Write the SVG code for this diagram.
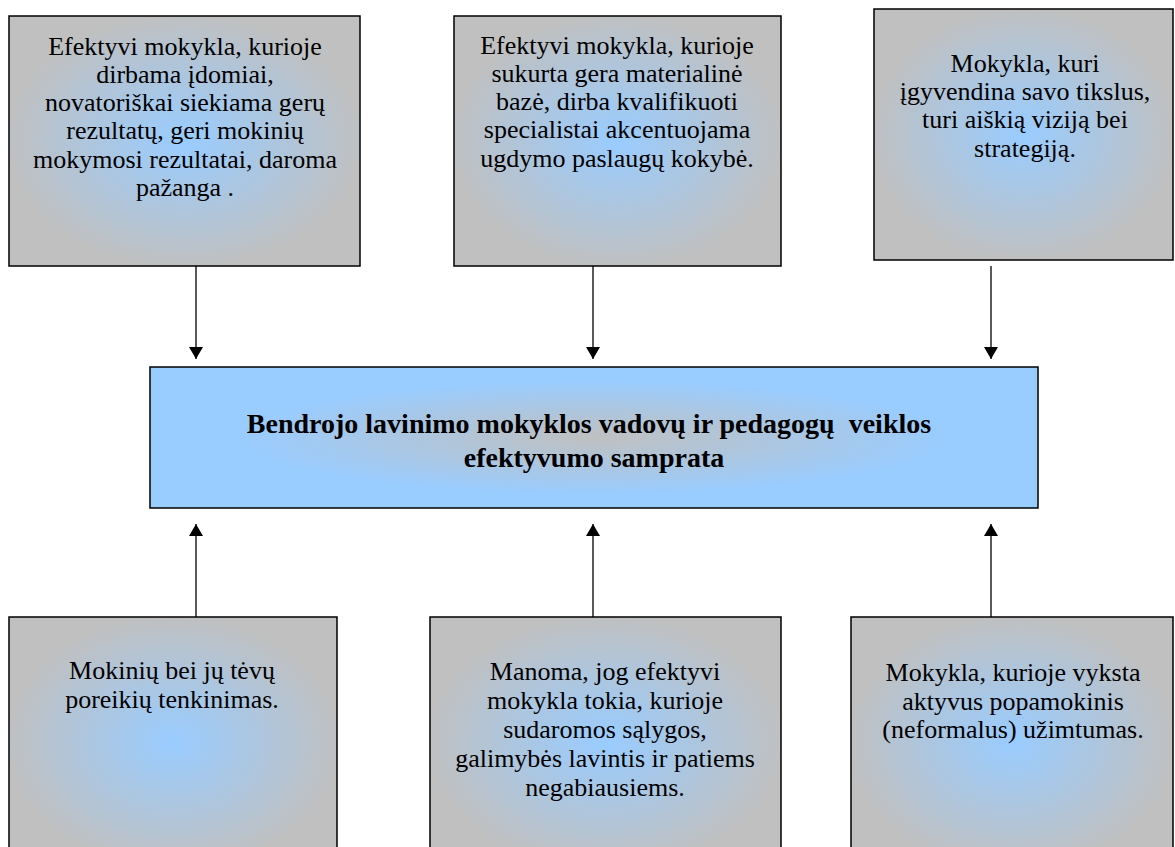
<svg xmlns="http://www.w3.org/2000/svg" width="1175" height="847" viewBox="0 0 1175 847">
<style>
.box{stroke:#000;stroke-width:1.5}
.outer{fill:url(#gOuter)}
.center{fill:url(#gCenter)}
.t{font-family:"Liberation Serif","Times New Roman",serif;font-size:26px;fill:#000;text-anchor:middle}
.tb{font-family:"Liberation Serif","Times New Roman",serif;font-size:28px;font-weight:bold;fill:#000;text-anchor:middle;white-space:pre}
.conn line{stroke:#000;stroke-width:1.3}
</style>
<defs>
<radialGradient id="gOuter" cx="0.5" cy="0.5" r="0.6">
<stop offset="0" stop-color="#99ccff"/>
<stop offset="0.85" stop-color="#c0c0c0"/>
</radialGradient>
<radialGradient id="gCenter" cx="0.5" cy="0.5" r="0.5">
<stop offset="0" stop-color="#c0c0c0"/>
<stop offset="0.8" stop-color="#99ccff"/>
</radialGradient>
<marker id="arr" viewBox="0 0 12 14" refX="12" refY="7" markerWidth="12" markerHeight="14" markerUnits="userSpaceOnUse" orient="auto">
<path d="M0,0 L12,7 L0,14 Z" fill="#000"/>
</marker>
</defs>
<g class="conn">
<line x1="196" y1="266" x2="196" y2="359" marker-end="url(#arr)"/>
<line x1="593" y1="266" x2="593" y2="359" marker-end="url(#arr)"/>
<line x1="991" y1="266" x2="991" y2="359" marker-end="url(#arr)"/>
<line x1="196" y1="617" x2="196" y2="524" marker-end="url(#arr)"/>
<line x1="593" y1="617" x2="593" y2="524" marker-end="url(#arr)"/>
<line x1="991" y1="617" x2="991" y2="524" marker-end="url(#arr)"/>
</g>
<g id="node-top1">
<rect class="box outer" x="9" y="16" width="351" height="250"/>
<text class="t" x="185" y="55">Efektyvi mokykla, kurioje</text>
<text class="t" x="185" y="83">dirbama įdomiai,</text>
<text class="t" x="185" y="111">novatoriškai siekiama gerų</text>
<text class="t" x="185" y="139">rezultatų, geri mokinių</text>
<text class="t" x="185" y="168">mokymosi rezultatai, daroma</text>
<text class="t" x="185" y="196">pažanga .</text>
</g>
<g id="node-top2">
<rect class="box outer" x="454" y="16" width="327" height="250"/>
<text class="t" x="617" y="54">Efektyvi mokykla, kurioje</text>
<text class="t" x="617" y="82">sukurta gera materialinė</text>
<text class="t" x="617" y="110">bazė, dirba kvalifikuoti</text>
<text class="t" x="617" y="138">specialistai akcentuojama</text>
<text class="t" x="617" y="167">ugdymo paslaugų kokybė.</text>
</g>
<g id="node-top3">
<rect class="box outer" x="874" y="9" width="299" height="251"/>
<text class="t" x="1025" y="72">Mokykla, kuri</text>
<text class="t" x="1025" y="100">įgyvendina savo tikslus,</text>
<text class="t" x="1025" y="128">turi aiškią viziją bei</text>
<text class="t" x="1025" y="157">strategiją.</text>
</g>
<g id="node-center">
<rect class="box center" x="150" y="367" width="888" height="141"/>
<text class="tb" x="589" y="433" xml:space="preserve">Bendrojo lavinimo mokyklos vadovų ir pedagogų  veiklos</text>
<text class="tb" x="594" y="467">efektyvumo samprata</text>
</g>
<g id="node-bottom1">
<rect class="box outer" x="9" y="617" width="328" height="250"/>
<text class="t" x="172" y="679">Mokinių bei jų tėvų</text>
<text class="t" x="172" y="708">poreikių tenkinimas.</text>
</g>
<g id="node-bottom2">
<rect class="box outer" x="430" y="617" width="351" height="250"/>
<text class="t" x="605" y="680">Manoma, jog efektyvi</text>
<text class="t" x="605" y="709">mokykla tokia, kurioje</text>
<text class="t" x="605" y="738">sudaromos sąlygos,</text>
<text class="t" x="605" y="767">galimybės lavintis ir patiems</text>
<text class="t" x="605" y="796">negabiausiems.</text>
</g>
<g id="node-bottom3">
<rect class="box outer" x="851" y="617" width="322" height="250"/>
<text class="t" x="1013" y="681">Mokykla, kurioje vyksta</text>
<text class="t" x="1013" y="710">aktyvus popamokinis</text>
<text class="t" x="1013" y="738">(neformalus) užimtumas.</text>
</g>
</svg>
